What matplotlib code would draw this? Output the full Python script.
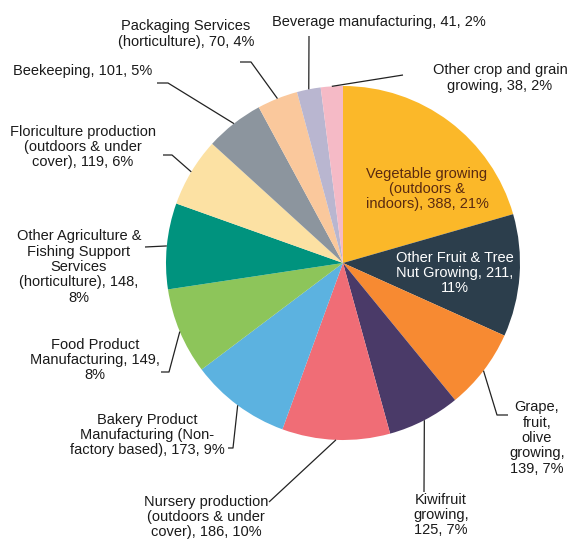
import numpy as np
import matplotlib.pyplot as plt

plt.rcParams['font.family'] = ['Liberation Sans', 'DejaVu Sans']

# slices, clockwise from 12 o'clock
categories = [
    "Vegetable growing\n(outdoors &\nindoors)",
    "Other Fruit & Tree\nNut Growing",
    "Grape,\nfruit,\nolive\ngrowing",
    "Kiwifruit\ngrowing",
    "Nursery production\n(outdoors & under\ncover)",
    "Bakery Product\nManufacturing (Non-\nfactory based)",
    "Food Product\nManufacturing",
    "Other Agriculture &\nFishing Support\nServices\n(horticulture)",
    "Floriculture production\n(outdoors & under\ncover)",
    "Beekeeping",
    "Packaging Services\n(horticulture)",
    "Beverage manufacturing",
    "Other crop and grain\ngrowing",
]
values = [388, 211, 139, 125, 186, 173, 149, 148, 119, 101, 70, 41, 38]
percents = [21, 11, 7, 7, 10, 9, 8, 8, 6, 5, 4, 2, 2]
colors = ['#FBB829', '#2C3E4C', '#F78A32', '#4A3A68', '#F06D76', '#5CB2E0',
          '#8DC55A', '#00937E', '#FCE1A3', '#8C959E', '#FAC89C', '#B9B6D0',
          '#F5BAC6']

# how each label wraps around its value / percent
fmt_inline = "{n}, {v}, {p}%"
fmt_pct_down = "{n}, {v},\n{p}%"
fmt_both_down = "{n},\n{v}, {p}%"
label_fmts = [fmt_inline, fmt_pct_down, fmt_both_down, fmt_both_down,
              fmt_inline, fmt_inline, fmt_pct_down, fmt_pct_down, fmt_inline,
              fmt_inline, fmt_inline, fmt_inline, fmt_inline]

# label layout in pixel coords: text centre, elbow points of the leader line
label_pos = [
    (427, 189), (455, 273), (537, 438), (441, 515), (206, 517), (147, 435),
    (95, 360), (79, 267), (83, 147), (83, 71), (186, 34), (379, 22), (500, 78),
]
elbows = [
    [], [], [(497, 415), (508, 415)], [(424, 492)], [(269, 502)],
    [(233, 448), (228, 448)], [(169, 372), (161, 372)], [(145, 247)],
    [(172, 155), (163, 155)], [(168, 83), (157, 83)], [(251, 62), (240, 62)],
    [(309, 36)], [(403, 75)],
]
text_colors = ['#5A2A10', 'white'] + ['#1A1A1A'] * 11

W, H = 571, 542
cx, cy, r = 343, 263, 177

fig = plt.figure(figsize=(W / 100, H / 100), dpi=100)
ax = fig.add_axes([0, 0, 1, 1])

# y axis is flipped below, so startangle=-90 is 12 o'clock and ccw draws clockwise
wedges, _ = ax.pie(values, colors=colors, startangle=-90, counterclock=True,
                   center=(cx, cy), radius=r, wedgeprops=dict(linewidth=0))
ax.set_xlim(0, W)
ax.set_ylim(H, 0)
ax.set_aspect('equal')
ax.axis('off')

for i, w in enumerate(wedges):
    text = label_fmts[i].format(n=categories[i], v=values[i], p=percents[i])
    tx, ty = label_pos[i]
    ax.text(tx, ty, text, ha='center', va='center', fontsize=10.5,
            color=text_colors[i], linespacing=1.12)
    if elbows[i]:
        mid = np.deg2rad((w.theta1 + w.theta2) / 2)
        ax_pt = (cx + r * np.cos(mid), cy + r * np.sin(mid))
        pts = [ax_pt] + elbows[i]
        ax.plot([p[0] for p in pts], [p[1] for p in pts], color='#222222',
                lw=0.9, solid_capstyle='butt')

fig.savefig('out.png', dpi=100, facecolor='white')
